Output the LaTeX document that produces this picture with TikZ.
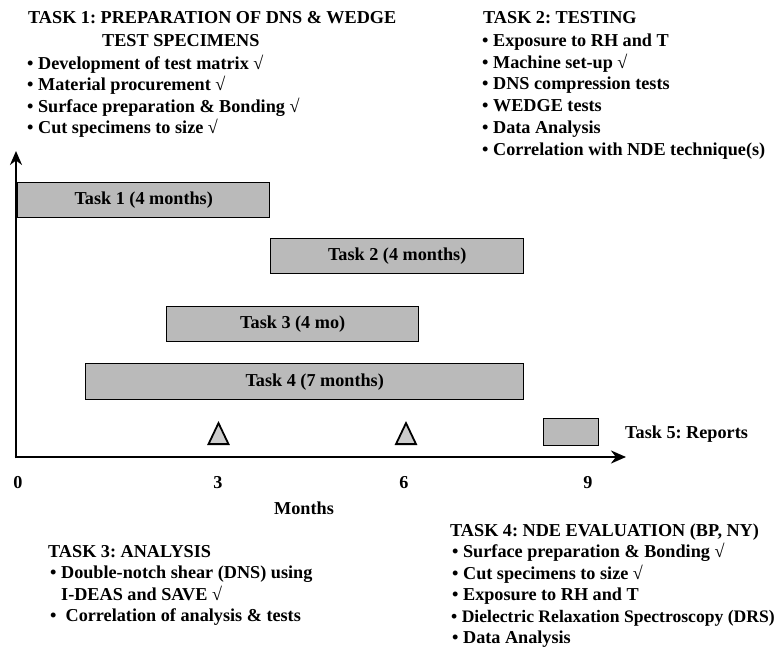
\documentclass[tikz,border=0pt]{standalone}
\usepackage{fontspec}
\setmainfont{Liberation Serif}
\frenchspacing
\usetikzlibrary{arrows.meta,shapes.geometric}
\begin{document}
\begin{tikzpicture}[x=1pt,y=-1pt,
  lbl/.style={anchor=base west,inner sep=0pt,font=\fontsize{18.2}{22}\selectfont\bfseries},
  bar/.style={draw=black,line width=1.4pt,fill=black!27,inner sep=0pt,anchor=north west,
    font=\fontsize{18.2}{22}\selectfont\bfseries,minimum height=35pt},
  axis/.style={line width=2.6pt},
  tick/.style={inner sep=0pt,font=\fontsize{18.2}{22}\selectfont\bfseries},
  mile/.style={draw=black,line width=1.8pt,fill=black!20,isosceles triangle,shape border rotate=90,
    isosceles triangle stretches,minimum width=20pt,minimum height=21pt,inner sep=0pt}]
\useasboundingbox (0,0) rectangle (784,650);
\fill[white] (0,0) rectangle (784,650);
% Task 1 text
\node[lbl] (a1) at (28,24) {TASK 1: PREPARATION OF DNS \& WEDGE};
\node[lbl] (a2) at (102,47) {TEST SPECIMENS};
\node[lbl] (a3) at (27,69.5) {• Development of test matrix √};
\node[lbl] (a4) at (27,91) {• Material procurement √};
\node[lbl] (a5) at (27,112.5) {• Surface preparation \& Bonding √};
\node[lbl] (a6) at (27,134) {• Cut specimens to size √};
% Task 2 text
\node[lbl] (b1) at (483,24) {TASK 2: TESTING};
\node[lbl] (b2) at (482,47) {• Exposure to RH and T};
\node[lbl] (b3) at (482,68.5) {• Machine set-up √};
\node[lbl] (b4) at (482,90) {• DNS compression tests};
\node[lbl] (b5) at (482,112) {• WEDGE tests};
\node[lbl] (b6) at (482,133.5) {• Data Analysis};
\node[lbl] (b7) at (482,155) {• Correlation with NDE technique(s)};
% axes
\coordinate (o) at (16,457);
\coordinate (ytop) at (16,151);
\coordinate (xend) at (626,457);
\draw[axis,-{Stealth[length=14pt,width=12pt]}] ([yshift=-1.3pt]o) -- (ytop);
\draw[axis,-{Stealth[length=15pt,width=13pt]}] ([xshift=-1.3pt]o) -- (xend);
% bars
\node[bar,minimum width=252pt] (t1) at (17,182) {Task 1 (4 months)};
\node[bar,minimum width=253pt] (t2) at (270,238) {Task 2 (4 months)};
\node[bar,minimum width=252pt] (t3) at (166,306) {Task 3 (4 mo)};
\node[bar,minimum width=438pt,minimum height=36pt] (t4) at (85,363) {\hspace{20pt}Task 4 (7 months)};
\node[bar,minimum width=55pt,minimum height=27pt] (t5) at (543,418) {};
\node[lbl] (t5l) at (625,438) {Task 5: Reports};
% milestones
\node[mile,anchor=south] (m1) at (218.5,445) {};
\node[mile,anchor=south] (m2) at (406,445) {};
% ticks
\node[tick] (k0) at (18,483) {0};
\node[tick] (k3) at (218,483) {3};
\node[tick] (k6) at (404,483) {6};
\node[tick] (k9) at (588,483) {9};
\node[tick] (mo) at (304,508) {Months};
% Task 3 text
\node[lbl] (c1) at (48,557) {TASK 3: ANALYSIS};
\node[lbl] (c2) at (50,578.5) {• Double-notch shear (DNS) using};
\node[lbl] (c3) at (61,600) {I-DEAS and SAVE √};
\node[lbl] (c4) at (50,621.5) {•\ \ Correlation of analysis \& tests};
% Task 4 text
\node[lbl] (d1) at (450,536) {TASK 4: NDE EVALUATION (BP, NY)};
\node[lbl] (d2) at (452,557.5) {• Surface preparation \& Bonding √};
\node[lbl] (d3) at (452,579) {• Cut specimens to size √};
\node[lbl] (d4) at (452,600.5) {• Exposure to RH and T};
\node[lbl,font=\fontsize{17.6}{22}\selectfont\bfseries] (d5) at (451,622) {• Dielectric Relaxation Spectroscopy (DRS)};
\node[lbl] (d6) at (452,643.5) {• Data Analysis};
\end{tikzpicture}
\end{document}
